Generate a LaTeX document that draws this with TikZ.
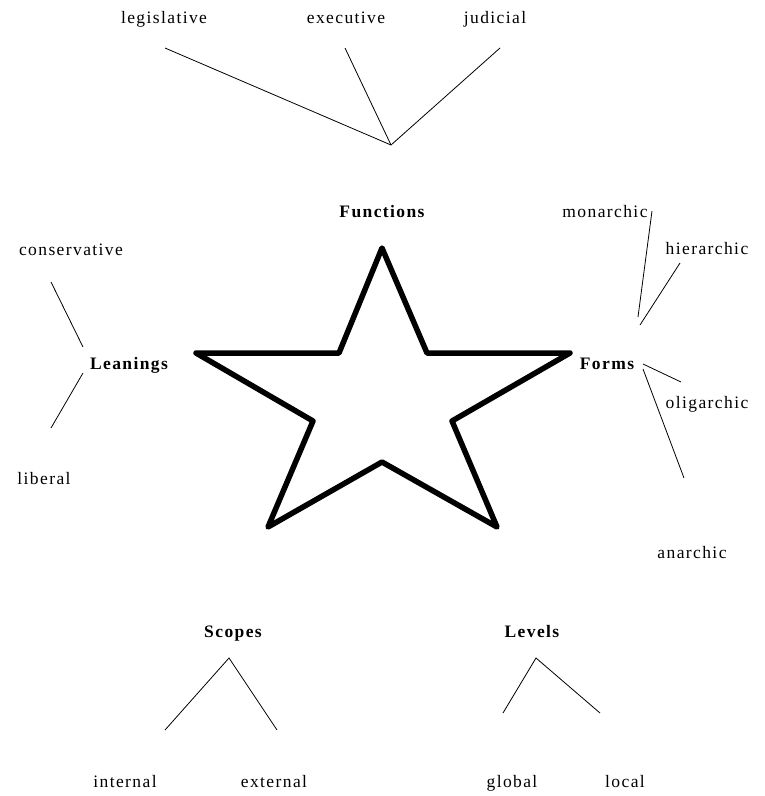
\documentclass[tikz,border=0pt]{standalone}
\usepackage{fontspec}
\setmainfont[LetterSpace=8]{Liberation Serif}
\begin{document}
\begin{tikzpicture}[
  x=1pt, y=-1pt,
  term/.style={font=\fontsize{17.5}{20}\selectfont, inner sep=1pt,
    text height=0.7em, text depth=0.22em, yshift=-3.5pt},
  head/.style={term, font=\fontsize{17.5}{20}\selectfont\bfseries},
  link/.style={draw=black, line width=0.8pt}
]
  \useasboundingbox (0,0) rectangle (765,796);

  % The star
  \draw[line width=5.5pt, line join=round, fill=white]
    (382,248) -- (427,353) -- (570,353) -- (452,421) -- (497,527)
    -- (382,462) -- (268,527) -- (313,421) -- (196,353) -- (339,353)
    -- cycle;

  % Headings round the star
  \node[head] (functions) at (382,212) {Functions};
  \node[head] (forms)     at (607,364) {Forms};
  \node[head] (leanings)  at (129,364) {Leanings};
  \node[head] (scopes)    at (233,632) {Scopes};
  \node[head] (levels)    at (532,632) {Levels};

  % Functions
  \node[term] (legislative) at (164,18) {legislative};
  \node[term] (executive)   at (346,18) {executive};
  \node[term] (judicial)    at (495,18) {judicial};
  \coordinate (fhub) at (391,145);
  \coordinate (legend) at (165,48);
  \coordinate (exeend) at (345,48);
  \coordinate (judend) at (500,48);
  \draw[link] (legend) -- (fhub);
  \draw[link] (exeend) -- (fhub);
  \draw[link] (judend) -- (fhub);

  % Forms
  \node[term] (monarchic)  at (605,212) {monarchic};
  \node[term] (hierarchic) at (707,249) {hierarchic};
  \node[term] (oligarchic) at (707,403) {oligarchic};
  \node[term] (anarchic)   at (692,553) {anarchic};
  \coordinate (monend) at (652,211);
  \coordinate (monfoot) at (638,317);
  \coordinate (hieend) at (680,263);
  \coordinate (hiefoot) at (640,325);
  \coordinate (formsne) at (643,364);
  \coordinate (oliend) at (681,382);
  \coordinate (formsse) at (643,369);
  \coordinate (anaend) at (684,478);
  \draw[link] (monend) -- (monfoot);
  \draw[link] (hieend) -- (hiefoot);
  \draw[link] (formsne) -- (oliend);
  \draw[link] (formsse) -- (anaend);

  % Leanings
  \node[term] (conservative) at (71,250) {conservative};
  \node[term] (liberal)      at (44,479) {liberal};
  \coordinate (conend) at (51,282);
  \coordinate (leanup) at (83,347);
  \coordinate (leandown) at (83,373);
  \coordinate (libend) at (51,428);
  \draw[link] (conend) -- (leanup);
  \draw[link] (leandown) -- (libend);

  % Scopes
  \node[term] (internal) at (125,782) {internal};
  \node[term] (external) at (274,782) {external};
  \coordinate (shub) at (229,658);
  \coordinate (intend) at (165,730);
  \coordinate (extend) at (277,730);
  \draw[link] (intend) -- (shub) -- (extend);

  % Levels
  \node[term] (global) at (512,782) {global};
  \node[term] (local)  at (625,782) {local};
  \coordinate (lhub) at (536,658);
  \coordinate (gloend) at (503,713);
  \coordinate (locend) at (600,713);
  \draw[link] (gloend) -- (lhub) -- (locend);
\end{tikzpicture}
\end{document}
